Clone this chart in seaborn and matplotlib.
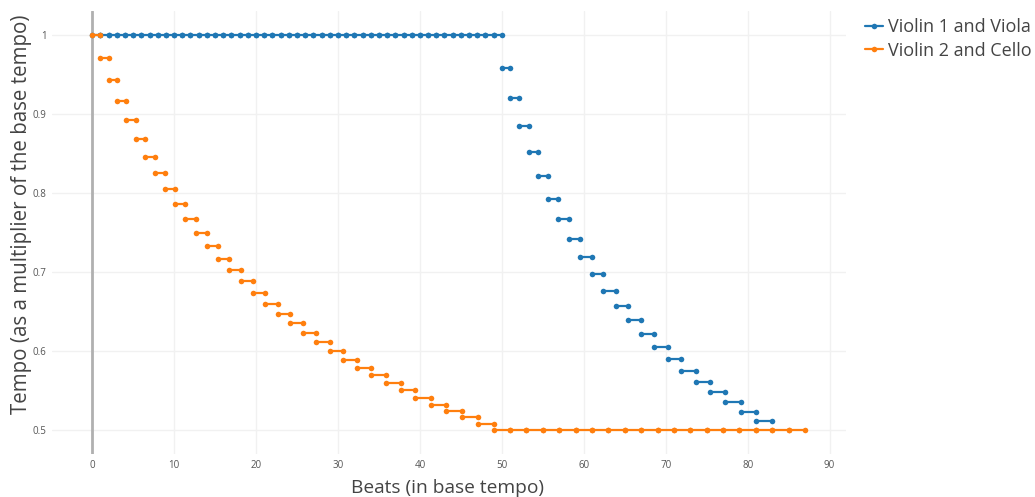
import matplotlib
matplotlib.use("Agg")
import matplotlib.pyplot as plt
from matplotlib.lines import Line2D
import numpy as np
import pandas as pd
import seaborn as sns

# Series labels and colours
series_names = ["Violin 1 and Viola", "Violin 2 and Cello"]
series_colors = ["#1f77b4", "#ff7f0e"]

# Violin 1 and Viola: beat boundaries (in base tempo) and tempo held between them
violin1_beats = [0, 1, 2, 3, 4, 5, 6, 7, 8, 9, 10, 11, 12, 13, 14, 15, 16, 17, 18, 19,
                 20, 21, 22, 23, 24, 25, 26, 27, 28, 29, 30, 31, 32, 33, 34, 35, 36, 37,
                 38, 39, 40, 41, 42, 43, 44, 45, 46, 47, 48, 49, 50,
                 51.04, 52.13, 53.26, 54.43, 55.65, 56.91, 58.22, 59.57, 60.96, 62.39,
                 63.87, 65.39, 66.96, 68.57, 70.22, 71.91, 73.65, 75.43, 77.26, 79.13,
                 81.04, 83.00]
violin1_tempo = [1.0] * 50 + [0.958, 0.920, 0.885, 0.852, 0.821, 0.793, 0.767, 0.742,
                              0.719, 0.697, 0.676, 0.657, 0.639, 0.622, 0.605, 0.590,
                              0.575, 0.561, 0.548, 0.535, 0.523, 0.511]

# Violin 2 and Cello: beat boundaries and tempo held between them
violin2_beats = [0, 1.00, 2.03, 3.09, 4.18, 5.30, 6.45, 7.64, 8.85, 10.09, 11.36, 12.67,
                 14.00, 15.36, 16.76, 18.18, 19.64, 21.12, 22.64, 24.18, 25.76, 27.36,
                 29.00, 30.67, 32.36, 34.09, 35.85, 37.64, 39.45, 41.30, 43.18, 45.09,
                 47.03, 49.00, 51, 53, 55, 57, 59, 61, 63, 65, 67, 69, 71, 73, 75, 77,
                 79, 81, 83, 85, 87]
violin2_tempo = [1.0, 0.971, 0.943, 0.917, 0.892, 0.868, 0.846, 0.825, 0.805, 0.786,
                 0.767, 0.750, 0.733, 0.717, 0.702, 0.688, 0.673, 0.660, 0.647, 0.635,
                 0.623, 0.611, 0.600, 0.589, 0.579, 0.569, 0.559, 0.550, 0.541, 0.532,
                 0.524, 0.516, 0.508] + [0.5] * 19

x_ticks = [0, 10, 20, 30, 40, 50, 60, 70, 80, 90]
y_ticks = [0.5, 0.6, 0.7, 0.8, 0.9, 1.0]
y_tick_labels = ["0.5", "0.6", "0.7", "0.8", "0.9", "1"]


def segments(name, beats, tempo):
    rows = []
    for i, t in enumerate(tempo):
        rows.append((name, f"{name}-{i}", beats[i], t))
        rows.append((name, f"{name}-{i}", beats[i + 1], t))
    return rows


rows = segments(series_names[0], violin1_beats, violin1_tempo) + \
       segments(series_names[1], violin2_beats, violin2_tempo)
df = pd.DataFrame(rows, columns=["series", "segment", "beat", "tempo"])

sns.set_theme(style="white")
plt.rcParams["font.family"] = ["Open Sans", "DejaVu Sans"]

fig = plt.figure(figsize=(10.35, 4.97), dpi=100)
ax = fig.add_axes([52 / 1035, 1 - 454 / 497, (846 - 52) / 1035, (454 - 11) / 497])

# light grid and a zero line at beat 0
for xt in x_ticks:
    ax.axvline(xt, color="#f1f1f1", lw=1, zorder=0)
for yt in y_ticks:
    ax.axhline(yt, color="#f1f1f1", lw=1, zorder=0)
ax.axvline(0, color="#b0b0b0", lw=2, zorder=1)

sns.lineplot(data=df, x="beat", y="tempo", hue="series", units="segment",
             estimator=None, sort=False, palette=series_colors,
             hue_order=series_names, marker="o", markersize=4.0,
             markeredgewidth=0, linewidth=1.6, legend=False, ax=ax, zorder=3)

ax.set_xlim(-4.9, 92.0)
ax.set_ylim(0.4696, 1.0304)
ax.set_xticks(x_ticks)
ax.set_yticks(y_ticks)
ax.set_yticklabels(y_tick_labels)
ax.tick_params(axis="both", labelsize=7, colors="#555555", length=0, pad=4)
for s in ax.spines.values():
    s.set_visible(False)

ax.set_xlabel("Beats (in base tempo)", fontsize=13.8, color="#444444")
ax.set_ylabel("Tempo (as a multiplier of the base tempo)", fontsize=14.8,
              color="#444444")
ax.xaxis.set_label_coords((448 - 52) / 794, (454 - 488) / 443)
ax.yaxis.set_label_coords((22 - 52) / 794, (454 - 214) / 443)
ax.xaxis.label.set_va("center")
ax.yaxis.label.set_va("center")

handles = [Line2D([0], [0], color=c, lw=1.6, marker="o", markersize=4.0,
                  markeredgewidth=0) for c in series_colors]
fig.legend(handles, series_names, loc="upper left",
           bbox_to_anchor=(858 / 1035, 1 - 11 / 497), frameon=False,
           fontsize=13, labelcolor="#444444", handlelength=1.0,
           handletextpad=0.25, labelspacing=0.3, borderaxespad=0, numpoints=1)

fig.savefig("out.png", dpi=100)
